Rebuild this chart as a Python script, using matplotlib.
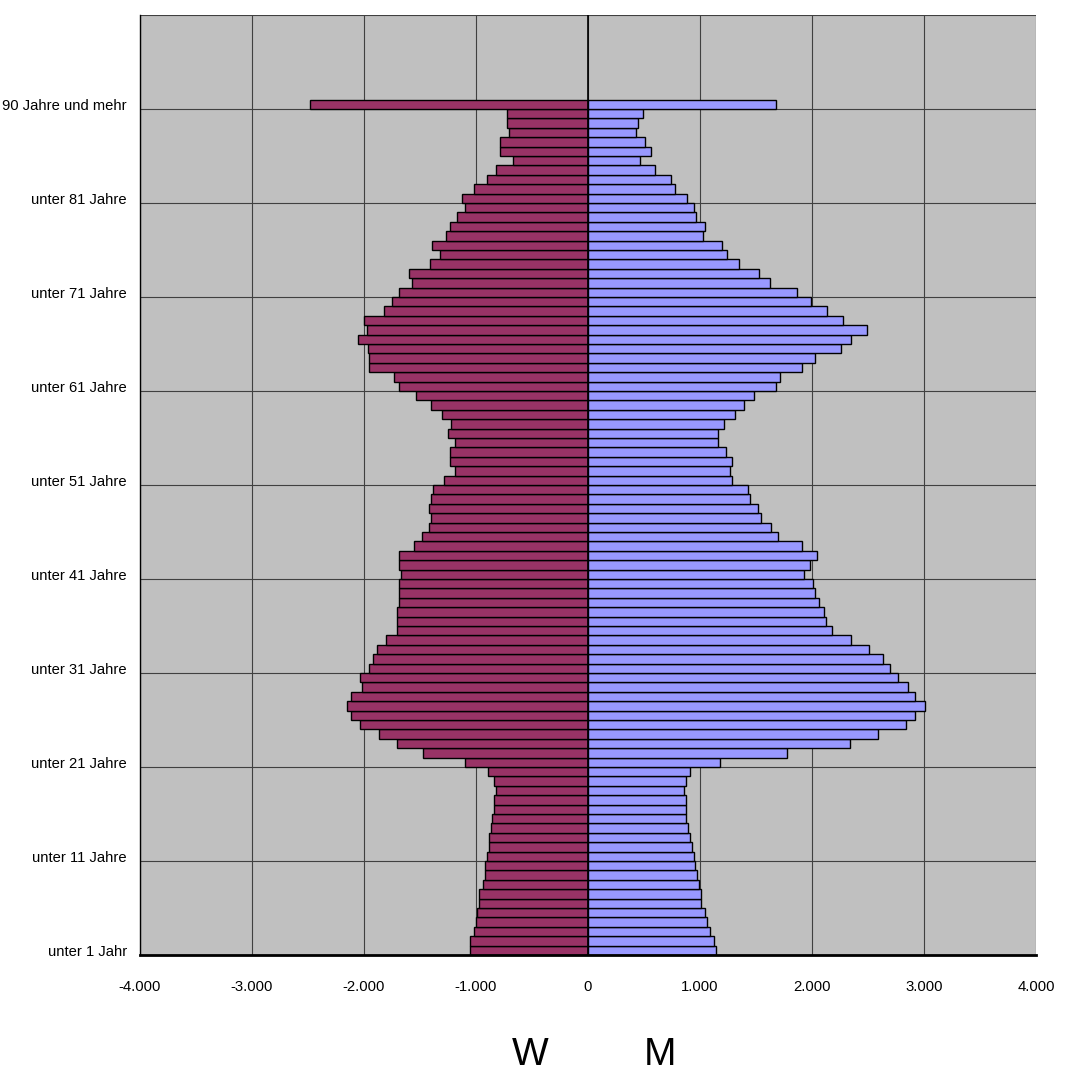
import numpy as np
import matplotlib.pyplot as plt

plt.rcParams['font.family'] = ['Liberation Sans', 'DejaVu Sans']

# Altersgruppen: Index 0 = "unter 1 Jahr" ... Index 90 = "90 Jahre und mehr"
ages = np.arange(91)

# Frauen (W) - Anzahl, links negativ dargestellt
women = np.array([
    1055, 1055, 1022, 1004, 989, 971, 971, 938, 921, 921,
    906, 888, 888, 870, 855, 837, 837, 822, 837, 891,
    1102, 1474, 1703, 1870, 2037, 2120, 2153, 2120, 2019, 2037,
    1953, 1921, 1888, 1805, 1703, 1703, 1703, 1685, 1685, 1685,
    1671, 1685, 1685, 1552, 1486, 1418, 1403, 1418, 1403, 1385,
    1284, 1188, 1236, 1236, 1188, 1254, 1221, 1305, 1406, 1537,
    1685, 1736, 1953, 1953, 1968, 2057, 1974, 2004, 1819, 1754,
    1685, 1572, 1602, 1409, 1325, 1391, 1272, 1236, 1171, 1102,
    1123, 1019, 903, 819, 674, 787, 787, 703, 721, 721,
    2486])

# Maenner (M)
men = np.array([
    1147, 1129, 1093, 1063, 1046, 1013, 1013, 992, 977, 959,
    944, 927, 912, 894, 876, 876, 876, 861, 876, 912,
    1180, 1775, 2343, 2593, 2840, 2924, 3007, 2924, 2858, 2772,
    2700, 2630, 2513, 2346, 2180, 2129, 2111, 2060, 2031, 2013,
    1930, 1980, 2046, 1912, 1697, 1632, 1549, 1516, 1447, 1430,
    1284, 1266, 1284, 1233, 1165, 1165, 1215, 1313, 1397, 1483,
    1680, 1712, 1912, 2031, 2263, 2346, 2495, 2278, 2132, 1995,
    1864, 1629, 1531, 1346, 1245, 1197, 1028, 1046, 962, 944,
    882, 781, 745, 596, 462, 560, 513, 430, 447, 495,
    1680])

tick_ages = [0, 10, 20, 30, 40, 50, 60, 70, 80, 90]
tick_labels = ['unter 1 Jahr', 'unter 11 Jahre', 'unter 21 Jahre', 'unter 31 Jahre',
               'unter 41 Jahre', 'unter 51 Jahre', 'unter 61 Jahre', 'unter 71 Jahre',
               'unter 81 Jahre', '90 Jahre und mehr']
x_ticks = [-4000, -3000, -2000, -1000, 0, 1000, 2000, 3000, 4000]

fig = plt.figure(figsize=(10.67, 10.76), dpi=100)
ax = fig.add_axes([140/1067, 1 - 955/1076, 896/1067, 940/1076])
ax.set_facecolor('#C0C0C0')

# gridlines
for x in x_ticks:
    ax.axvline(x, color='#404040', linewidth=0.8, zorder=0)
for a in range(0, 101, 10):
    ax.axhline(a, color='#404040', linewidth=0.8, zorder=0)

ax.barh(ages + 0.5, -women, height=1.0, color='#993366', edgecolor='black', linewidth=1.0, zorder=2)
ax.barh(ages + 0.5, men, height=1.0, color='#9999FF', edgecolor='black', linewidth=1.0, zorder=2)
ax.axvline(0, color='black', linewidth=1.2, zorder=3)

ax.set_xlim(-4000, 4000)
ax.set_ylim(0, 100)
ax.set_xticks(x_ticks)
ax.set_xticklabels([f'{v:,}'.replace(',', '.') for v in x_ticks], fontsize=10.7)
ax.set_yticks([a + 0.5 for a in tick_ages])
ax.set_yticklabels(tick_labels, fontsize=10.6)
ax.tick_params(axis='x', length=0, pad=18)
ax.tick_params(axis='y', length=0, pad=9.4)

for side in ['top', 'right']:
    ax.spines[side].set_visible(False)
ax.spines['left'].set_linewidth(1.0)
ax.spines['bottom'].set_linewidth(2.0)

fig.text(530/1067, 1 - 1055/1076, 'W', fontsize=28, ha='center', va='center')
fig.text(660/1067, 1 - 1055/1076, 'M', fontsize=28, ha='center', va='center')

plt.savefig('out.png', dpi=100)
